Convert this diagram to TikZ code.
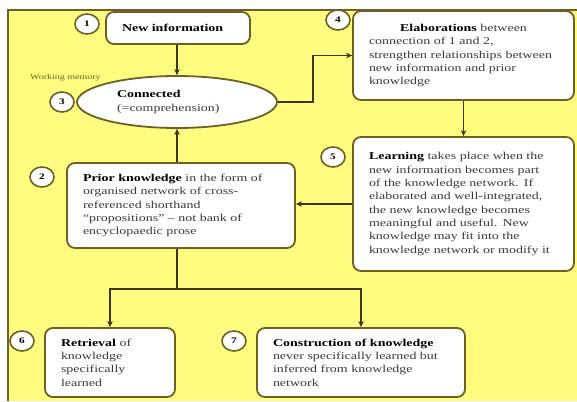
\documentclass[tikz,border=0pt]{standalone}
\usepackage{fontspec}
\setmainfont[FakeStretch=1.33]{Liberation Serif}
\usetikzlibrary{shapes.geometric,arrows.meta}
\definecolor{bgyellow}{HTML}{FFFC80}
\definecolor{bordc}{HTML}{6E5F25}
\definecolor{linec}{HTML}{3D3510}
\definecolor{txtc}{HTML}{3A3A3A}
\newcommand{\bodyfnt}{\fontsize{10.5}{13.3}\selectfont\color{txtc}}
\tikzset{
  bx/.style={draw=bordc, fill=white, rounded corners=8pt, line width=1.8pt,
    inner xsep=16pt, inner ysep=0pt, align=left, font=\bodyfnt},
  num/.style={ellipse, draw=bordc, line width=1.6pt, fill=white,
    minimum width=24pt, minimum height=20pt, inner sep=0pt,
    font=\bfseries\fontsize{8.5}{8.5}\selectfont},
  conn/.style={draw=linec, line width=1.5pt},
  arr/.style={conn, -{Stealth[length=6pt,width=5.5pt]}}
}
\begin{document}
\begin{tikzpicture}[x=1pt,y=-1pt]
\useasboundingbox (0,0) rectangle (577,401);
\fill[white] (0,0) rectangle (577,401);
\fill[bgyellow] (8,10) rectangle (577,401);
\draw[bordc, line width=1.2pt] (8,401) -- (8,10) -- (577,10);

% boxes
\node[bx, text width=112pt, minimum height=32pt] (b1) at (178,28)
  {\textbf{\color{black}New information}};
\node[ellipse, draw=bordc, fill=white, line width=1.8pt, minimum width=200pt,
  minimum height=52pt, inner sep=0pt, text width=120pt, align=left, font=\bodyfnt]
  (e3) at (177,102) {\textbf{\color{black}Connected}\\(=comprehension)};
\node[bx, text width=189pt, minimum height=89pt] (b4) at (463.5,55.5)
  {\makebox[\linewidth][c]{\textbf{\color{black}Elaborations} between}\\
   connection of 1 and 2,\\
   strengthen relationships between\\
   new information and prior\\
   knowledge};
\node[bx, text width=189pt, minimum height=134pt] (b5) at (463.5,204)
  {\textbf{\color{black}Learning} takes place when the\\
   new information becomes part\\
   of the knowledge network. If\\
   elaborated and well-integrated,\\
   the new knowledge becomes\\
   meaningful and useful. New\\
   knowledge may fit into the\\
   knowledge network or modify it};
\node[bx, text width=196pt, minimum height=85pt] (b2) at (181,205.5)
  {\textbf{\color{black}Prior knowledge} in the form of\\
   organised network of cross-\\
   referenced shorthand\\
   ``propositions'' -- not bank of\\
   encyclopaedic prose};
\node[bx, text width=98pt, minimum height=69pt] (b6) at (110,362.5)
  {\textbf{\color{black}Retrieval} of\\knowledge\\specifically\\learned};
\node[bx, text width=176pt, minimum height=69pt] (b7) at (361,362.5)
  {\textbf{\color{black}Construction of knowledge}\\
   never specifically learned but\\
   inferred from knowledge\\
   network};

% labels
\node[anchor=west, inner sep=0pt, font=\fontsize{7.5}{8}\selectfont, text=bordc]
  (wm) at (30,78) {Working memory};

% number markers
\node[num] (n1) at (87,24) {1};
\node[num] (n3) at (62,102) {3};
\node[num] (n4) at (338,20) {4};
\node[num] (n5) at (333,157) {5};
\node[num] (n2) at (42,177) {2};
\node[num] (n6) at (22,341) {6};
\node[num] (n7) at (234,341) {7};

% connectors
\draw[arr] (b1.south -| e3.south) -- (e3.south |- e3.north);
\draw[arr] (e3.east) -- ++(35,0) |- (b4.west);
\draw[arr] (b4.south) -- (b5.north);
\draw[arr] (b5.west) -- (b2.east |- b5.west);
\draw[arr] (b2.north -| e3.south) -- (e3.south);
\draw[conn] (b2.south -| e3.south) -- ++(0,40) coordinate (split);
\draw[arr] (split) -| (b6.north);
\draw[arr] (split) -| (b7.north);
\end{tikzpicture}
\end{document}
